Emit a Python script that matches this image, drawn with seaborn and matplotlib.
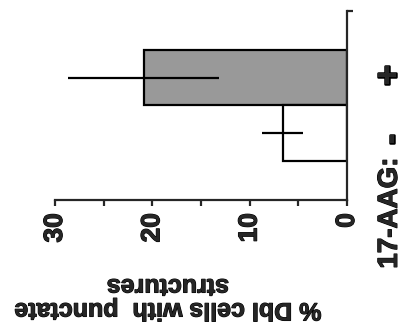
import numpy as np
import matplotlib
matplotlib.use("Agg")
import matplotlib.pyplot as plt
import matplotlib.transforms as mtransforms
import matplotlib.patheffects as pe
import seaborn as sns

treatment = ["+", "-"]
pct_punctate = [20.9, 6.6]
pct_sem = [7.8, 2.1]
bar_colors = {"+": "#999999", "-": "#ffffff"}

sns.set_style("ticks")
plt.rcParams["font.family"] = ["Liberation Sans", "DejaVu Sans"]
plt.rcParams["font.weight"] = "bold"

W, H = 415, 335
fig = plt.figure(figsize=(W / 100, H / 100), dpi=100)
ax = fig.add_axes([55 / W, 1 - 200 / H, (347 - 55) / W, (200 - 11) / H])

sns.barplot(
    x=pct_punctate,
    y=treatment,
    hue=treatment,
    palette=bar_colors,
    order=treatment,
    orient="h",
    width=1.0,
    edgecolor="black",
    linewidth=1.6,
    errorbar=None,
    legend=False,
    ax=ax,
)
ax.errorbar(
    pct_punctate,
    np.arange(len(treatment)),
    xerr=pct_sem,
    fmt="none",
    ecolor="black",
    elinewidth=1.6,
    capsize=0,
)

# value axis runs right-to-left, categories bottom-to-top
ax.set_xlim(30, 0)
ax.set_ylim(2.2, -1.2)
ax.set_xticks([0, 10, 20, 30])
ax.set_xticks([5, 15, 25], minor=True)
ax.set_xlabel("")
ax.set_ylabel("")

for side in ["left", "top"]:
    ax.spines[side].set_visible(False)
for side in ["right", "bottom"]:
    ax.spines[side].set_linewidth(1.6)

# slightly heavier strokes, like the printed figure
heavy = [pe.withStroke(linewidth=0.8, foreground="black")]
heavier = [pe.withStroke(linewidth=1.8, foreground="black")]

ax.tick_params(axis="x", which="both", direction="out", length=4.5, width=1.6,
               pad=5, labelsize=19, labelrotation=90)
for lbl in ax.get_xticklabels():
    lbl.set_fontweight("bold")
    lbl.set_path_effects(heavy)

ax.yaxis.tick_right()
ax.set_yticks([])
ax.set_yticks([-1.2], minor=True)
ax.tick_params(axis="y", which="minor", right=True, direction="out",
               length=4, width=1.6, labelright=False)

# category labels drawn beside the right spine
blend = mtransforms.blended_transform_factory(ax.transAxes, ax.transData)
label_shift = {"+": (0, 1.8), "-": (2, -4.3)}
label_size = {"+": 25, "-": 22}
for i, name in enumerate(treatment):
    dx, dy = label_shift[name]
    tr = mtransforms.offset_copy(blend, fig=fig, x=dx, y=dy, units="points")
    ax.text(1.144, i, name, transform=tr, rotation=90, ha="center",
            va="center", fontsize=label_size[name], fontweight="bold",
            path_effects=heavier)

ax.text(1.147, -0.07, "17-AAG:", transform=ax.transAxes, rotation=90,
        ha="center", va="center", fontsize=20, fontweight="bold",
        path_effects=heavy)
ax.text(0.387, -0.52, "% Dbl cells with  punctate\nstructures",
        transform=ax.transAxes, rotation=180, ha="center", va="center",
        multialignment="center", fontsize=18, fontweight="bold",
        linespacing=1.0, path_effects=heavy)

fig.savefig("out.png", dpi=100)
